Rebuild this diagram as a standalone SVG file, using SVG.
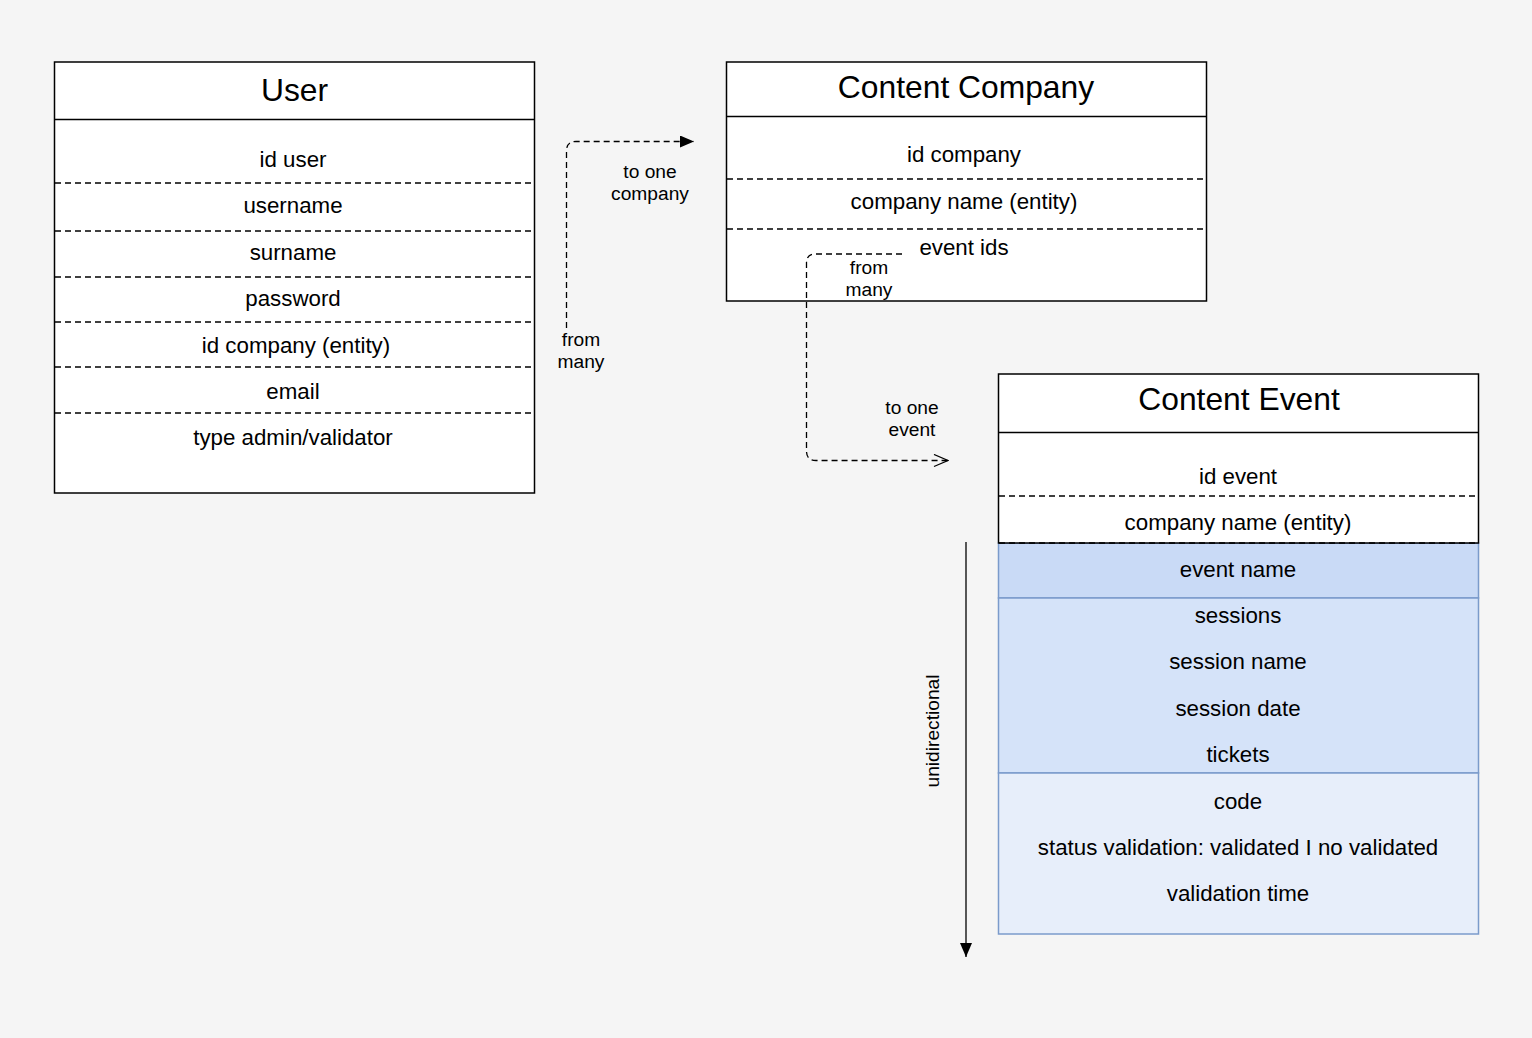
<svg xmlns="http://www.w3.org/2000/svg" width="1532" height="1038" viewBox="0 0 1532 1038">
<style>
text{font-family:"Liberation Sans",Arial,Helvetica,sans-serif;fill:#000;text-anchor:middle}
.title{font-size:31.8px}
.row{font-size:22.3px}
.lbl{font-size:19.2px}
.box{fill:#fff;stroke:#000;stroke-width:1.5}
.sep{stroke:#000;stroke-width:1.5;fill:none}
.dash{stroke:#000;stroke-width:1.3;stroke-dasharray:6 4;fill:none}
.blue{stroke:#7b9bcb;stroke-width:1.5}
.conn{stroke:#000;stroke-width:1.3;fill:none}
</style>
<defs>
<marker id="arrFill" viewBox="0 0 14 12" refX="14" refY="6" markerWidth="14" markerHeight="12" markerUnits="userSpaceOnUse" orient="auto">
<path d="M0,0 L14,6 L0,12 Z" fill="#000"/>
</marker>
<marker id="arrOpen" viewBox="0 0 16 14" refX="15" refY="7" markerWidth="16" markerHeight="14" markerUnits="userSpaceOnUse" orient="auto">
<path d="M1,1 L15,7 L1,13" fill="none" stroke="#000" stroke-width="1.3"/>
</marker>
</defs>
<rect x="0" y="0" width="1532" height="1038" fill="#f5f5f5"/>

<g id="user">
<rect class="box" x="54.5" y="62" width="480" height="431"/>
<line class="sep" x1="54.5" y1="119.5" x2="534.5" y2="119.5"/>
<text class="title" x="294.5" y="101">User</text>
<text class="row" x="293" y="167">id user</text>
<line class="dash" x1="55" y1="183" x2="531" y2="183"/>
<text class="row" x="293" y="213">username</text>
<line class="dash" x1="55" y1="231" x2="531" y2="231"/>
<text class="row" x="293" y="260">surname</text>
<line class="dash" x1="55" y1="277" x2="531" y2="277"/>
<text class="row" x="293" y="306">password</text>
<line class="dash" x1="55" y1="322" x2="531" y2="322"/>
<text class="row" x="296" y="353">id company (entity)</text>
<line class="dash" x1="55" y1="367" x2="531" y2="367"/>
<text class="row" x="293" y="399">email</text>
<line class="dash" x1="55" y1="413" x2="531" y2="413"/>
<text class="row" x="293" y="445">type admin/validator</text>
</g>

<g id="company">
<rect class="box" x="726.5" y="62" width="480" height="239"/>
<line class="sep" x1="726.5" y1="116.5" x2="1206.5" y2="116.5"/>
<text class="title" x="966" y="98">Content Company</text>
<text class="row" x="964" y="162">id company</text>
<line class="dash" x1="727" y1="179" x2="1203" y2="179"/>
<text class="row" x="964" y="209">company name (entity)</text>
<line class="dash" x1="727" y1="229" x2="1203" y2="229"/>
<text class="row" x="964" y="255">event ids</text>
</g>

<g id="event">
<rect x="998.5" y="543" width="480" height="55" fill="#c9daf6" class="blue"/>
<rect x="998.5" y="598" width="480" height="175" fill="#d5e3f9" class="blue"/>
<rect x="998.5" y="773" width="480" height="161" fill="#e7eefa" class="blue"/>
<rect class="box" x="998.5" y="374" width="480" height="169"/>
<line class="sep" x1="998.5" y1="432.5" x2="1478.5" y2="432.5"/>
<text class="title" x="1239" y="410">Content Event</text>
<text class="row" x="1238" y="484">id event</text>
<line class="dash" x1="999" y1="496" x2="1475" y2="496"/>
<text class="row" x="1238" y="530">company name (entity)</text>
<line class="dash" x1="999" y1="543" x2="1476" y2="543"/>
<text class="row" x="1238" y="577">event name</text>
<text class="row" x="1238" y="623">sessions</text>
<text class="row" x="1238" y="669">session name</text>
<text class="row" x="1238" y="716">session date</text>
<text class="row" x="1238" y="762">tickets</text>
<text class="row" x="1238" y="809">code</text>
<text class="row" x="1238" y="855">status validation: validated I no validated</text>
<text class="row" x="1238" y="901">validation time</text>
</g>

<g id="connectors">
<path class="conn" stroke-dasharray="6 4" d="M566.5,328 L566.5,151 Q566.5,141.5 576,141.5 L694,141.5" marker-end="url(#arrFill)"/>
<text class="lbl" x="650" y="178">to one</text>
<text class="lbl" x="650" y="200">company</text>
<text class="lbl" x="581" y="346">from</text>
<text class="lbl" x="581" y="368">many</text>

<path class="conn" stroke-dasharray="6 4" d="M902,254 L815,254 Q806.5,254 806.5,263 L806.5,451 Q806.5,460.5 816,460.5 L948,460.5" marker-end="url(#arrOpen)"/>
<text class="lbl" x="869" y="274">from</text>
<text class="lbl" x="869" y="296">many</text>
<text class="lbl" x="912" y="414">to one</text>
<text class="lbl" x="912" y="436">event</text>

<line class="conn" x1="966" y1="542" x2="966" y2="957" marker-end="url(#arrFill)"/>
<text class="lbl" transform="translate(939,731) rotate(-90)">unidirectional</text>
</g>
</svg>
